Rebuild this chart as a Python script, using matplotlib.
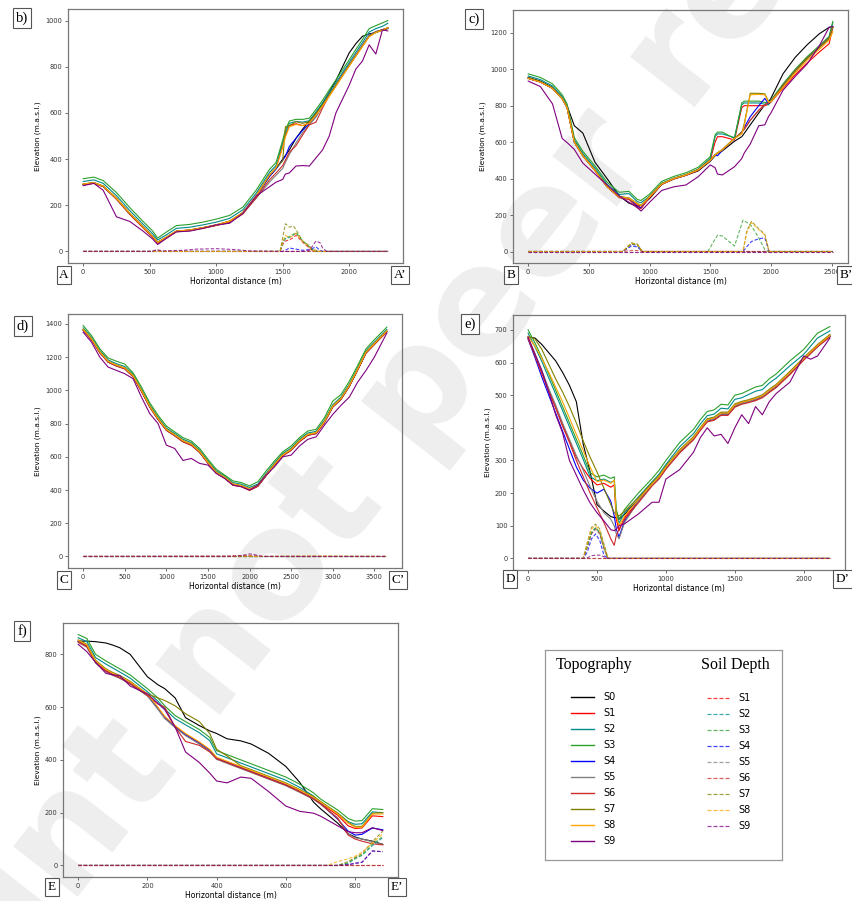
import matplotlib
matplotlib.use("Agg")
import matplotlib.pyplot as plt
from matplotlib.ticker import MultipleLocator

W, H = 852, 901

# ---------------- section A-A' (panel b) ----------------
b_x = [0, 80, 150, 250, 350, 450, 520, 560, 620, 700, 800, 900, 1000, 1100, 1200, 1300, 1400, 1450,
       1500, 1520, 1550, 1600, 1650, 1700, 1750, 1800, 1850, 1900, 1950, 2000, 2050, 2100, 2150, 2200, 2250, 2290]
b_s0 = [290, 297, 282, 228, 163, 105, 65, 40, 58, 87, 92, 102, 114, 130, 167, 238, 325, 358,
        400, 415, 440, 490, 530, 565, 600, 640, 690, 740, 800, 860, 900, 932, 942, 948, 958, 965]
b_s1 = [292, 298, 283, 230, 165, 106, 66, 40, 60, 88, 93, 103, 115, 131, 168, 240, 330, 362,
        460, 500, 545, 553, 545, 555, 592, 632, 675, 718, 762, 805, 848, 890, 932, 950, 960, 968]
b_s2 = [303, 310, 295, 242, 177, 118, 78, 50, 70, 100, 105, 115, 127, 143, 180, 252, 342, 372,
        472, 512, 555, 563, 560, 566, 604, 644, 688, 731, 775, 818, 862, 905, 950, 965, 975, 988]
b_s3 = [315, 322, 307, 255, 190, 130, 90, 58, 82, 112, 117, 127, 140, 156, 192, 265, 355, 385,
        482, 525, 565, 572, 572, 577, 615, 655, 700, 743, 787, 830, 875, 918, 965, 978, 990, 1000]
b_s4 = [290, 297, 282, 228, 163, 105, 65, 40, 58, 87, 92, 102, 114, 125, 167, 238, 325, 358,
        395, 412, 455, 490, 525, 552, 585, 632, 678, 720, 765, 808, 850, 893, 935, 952, 960, 968]
b_s5 = [290, 297, 282, 228, 163, 105, 65, 40, 58, 87, 92, 102, 114, 128, 165, 230, 300, 330,
        360, 385, 420, 470, 515, 548, 582, 632, 678, 720, 765, 808, 850, 893, 935, 952, 960, 968]
b_s6 = [288, 295, 280, 226, 160, 102, 62, 35, 55, 85, 90, 100, 112, 126, 162, 232, 310, 340,
        372, 395, 430, 458, 505, 548, 560, 622, 675, 718, 762, 805, 848, 890, 932, 950, 960, 968]
b_s7 = [292, 298, 283, 230, 165, 106, 66, 40, 60, 88, 93, 103, 115, 131, 168, 240, 332, 362,
        392, 540, 545, 562, 555, 562, 597, 636, 678, 720, 763, 806, 848, 890, 932, 950, 960, 968]
b_s8 = [292, 298, 283, 230, 165, 106, 66, 40, 60, 88, 93, 103, 115, 131, 168, 240, 330, 362,
        450, 495, 540, 550, 545, 555, 590, 630, 672, 715, 760, 803, 846, 888, 930, 948, 958, 970]
b_s9 = [285, 295, 265, 150, 130, 88, 55, 30, 55, 85, 88, 100, 115, 122, 165, 240, 280, 300,
        312, 335, 340, 370, 372, 370, 405, 440, 500, 600, 660, 720, 790, 825, 895, 855, 960, 955]
b_sx = [0, 520, 550, 600, 750, 850, 1000, 1150, 1250, 1480, 1500, 1520, 1550, 1580, 1600, 1650,
        1700, 1720, 1750, 1780, 1800, 1830, 2290]
b_d1 = [0, 0, 0, 0, 0, 0, 0, 0, 0, 0, 30, 45, 50, 60, 70, 40, 15, 5, 0, 0, 0, 0, 0]
b_d2 = [0, 0, 0, 0, 0, 0, 0, 0, 0, 0, 35, 55, 60, 70, 80, 45, 20, 8, 0, 0, 0, 0, 0]
b_d3 = [0, 0, 0, 0, 0, 0, 0, 0, 0, 0, 40, 60, 65, 75, 82, 45, 20, 8, 0, 0, 0, 0, 0]
b_d4 = [0, 0, 0, 0, 0, 0, 0, 0, 0, 0, 0, 5, 15, 12, 10, 5, 8, 12, 20, 5, 0, 0, 0]
b_d5 = [0, 0, 0, 0, 0, 0, 0, 0, 0, 0, 0, 0, 0, 0, 0, 0, 0, 0, 0, 0, 0, 0, 0]
b_d6 = [0, 0, 5, 0, 0, 0, 0, 0, 0, 0, 0, 0, 0, 0, 0, 0, 0, 0, 0, 0, 0, 0, 0]
b_d7 = [0, 0, 0, 0, 0, 0, 0, 0, 0, 0, 60, 120, 105, 110, 95, 45, 25, 10, 5, 0, 0, 0, 0]
b_d8 = [0, 0, 0, 0, 0, 0, 0, 0, 0, 0, 40, 70, 60, 70, 80, 42, 18, 6, 0, 0, 0, 0, 0]
b_d9 = [0, 0, 8, 2, 5, 10, 12, 8, 2, 0, 0, 0, 0, 0, 0, 0, 5, 20, 45, 38, 15, 0, 0]

# ---------------- section B-B' (panel c) ----------------
c_x = [0, 100, 200, 280, 320, 380, 450, 550, 650, 750, 830, 900, 930, 1000, 1100, 1200, 1300, 1400,
       1500, 1540, 1560, 1600, 1700, 1760, 1780, 1830, 1900, 1950, 1980, 2000, 2100, 2200, 2300, 2400, 2480, 2510]
c_s0 = [955, 935, 900, 840, 800, 690, 650, 490, 400, 305, 265, 250, 253, 290, 368, 398, 418, 442,
        495, 525, 538, 552, 605, 630, 648, 695, 760, 805, 820, 840, 975, 1065, 1135, 1195, 1230, 1232]
c_s1 = [950, 930, 895, 838, 790, 600, 525, 445, 355, 300, 290, 255, 240, 295, 368, 398, 418, 445,
        500, 600, 630, 630, 612, 790, 800, 800, 800, 800, 808, 820, 895, 970, 1035, 1095, 1140, 1230]
c_s2 = [963, 943, 908, 850, 800, 612, 538, 458, 368, 313, 318, 273, 268, 303, 375, 402, 422, 452,
        510, 630, 645, 645, 625, 805, 815, 815, 815, 808, 805, 825, 912, 992, 1062, 1124, 1175, 1255]
c_s3 = [975, 955, 920, 860, 810, 625, 550, 470, 380, 325, 330, 285, 280, 315, 385, 412, 432, 462,
        520, 640, 655, 655, 620, 815, 825, 825, 825, 818, 815, 830, 920, 1000, 1070, 1130, 1180, 1262]
c_s4 = [950, 930, 895, 838, 790, 600, 525, 445, 355, 300, 292, 245, 240, 300, 370, 400, 420, 448,
        500, 530, 525, 555, 620, 655, 680, 740, 800, 840, 812, 822, 910, 990, 1060, 1120, 1170, 1230]
c_s5 = [950, 930, 895, 838, 790, 600, 525, 445, 355, 300, 292, 262, 252, 300, 370, 400, 420, 448,
        500, 530, 540, 558, 620, 655, 670, 720, 775, 805, 815, 822, 910, 990, 1060, 1120, 1170, 1230]
c_s6 = [950, 930, 895, 838, 790, 600, 525, 445, 355, 295, 285, 240, 235, 298, 370, 400, 420, 448,
        500, 530, 540, 558, 620, 655, 670, 720, 775, 805, 815, 822, 910, 990, 1060, 1120, 1170, 1230]
c_s7 = [952, 932, 897, 840, 792, 602, 527, 447, 357, 302, 294, 264, 254, 302, 372, 402, 422, 450,
        502, 532, 542, 560, 622, 650, 700, 868, 868, 865, 825, 822, 910, 990, 1060, 1120, 1170, 1230]
c_s8 = [950, 930, 895, 838, 790, 600, 525, 445, 355, 300, 292, 262, 252, 300, 370, 400, 420, 448,
        500, 530, 540, 558, 620, 645, 690, 860, 862, 860, 820, 822, 900, 980, 1050, 1110, 1160, 1205]
c_s9 = [935, 905, 810, 620, 598, 560, 485, 425, 365, 305, 270, 240, 222, 270, 335, 355, 365, 410,
        475, 460, 425, 420, 465, 510, 540, 590, 690, 695, 740, 760, 885, 960, 1030, 1130, 1230, 1235]
c_sx = [0, 780, 850, 900, 940, 1480, 1560, 1600, 1700, 1770, 1800, 1840, 1900, 1950, 1985, 2510]
c_d1 = [0, 0, 42, 35, 0, 0, 0, 0, 0, 0, 0, 0, 0, 0, 0, 0]
c_d2 = [0, 0, 40, 32, 0, 0, 0, 0, 0, 0, 0, 0, 0, 0, 0, 0]
c_d3 = [0, 0, 45, 40, 0, 0, 90, 85, 30, 172, 160, 140, 75, 10, 0, 0]
c_d4 = [0, 0, 30, 25, 0, 0, 0, 0, 0, 0, 25, 55, 70, 75, 0, 0]
c_d5 = [0, 0, 0, 0, 0, 0, 0, 0, 0, 0, 0, 0, 0, 0, 0, 0]
c_d6 = [0, 0, 5, 5, 0, 0, 0, 0, 0, 0, 0, 0, 0, 0, 0, 0]
c_d7 = [0, 0, 48, 40, 0, 0, 0, 0, 0, 0, 110, 165, 125, 95, 0, 0]
c_d8 = [0, 0, 46, 38, 0, 0, 0, 0, 0, 0, 100, 160, 120, 90, 0, 0]
c_d9 = [0, 0, 0, 0, 0, 0, 0, 0, 0, 0, 0, 0, 0, 0, 0, 0]

# ---------------- section C-C' (panel d) ----------------
d_x = [0, 100, 200, 300, 400, 500, 600, 700, 800, 900, 1000, 1100, 1200, 1300, 1400, 1500, 1600, 1700,
       1800, 1900, 2000, 2100, 2200, 2300, 2400, 2500, 2600, 2700, 2800, 2900, 3000, 3100, 3200, 3300,
       3400, 3500, 3650]
d_s0 = [1365, 1307, 1229, 1172, 1149, 1132, 1085, 997, 902, 827, 762, 729, 694, 674, 629, 564, 504, 474,
        434, 424, 404, 425, 490, 552, 609, 642, 694, 732, 742, 809, 902, 949, 1027, 1125, 1227, 1279, 1355]
d_s1 = [1363, 1305, 1227, 1170, 1147, 1130, 1083, 995, 900, 825, 760, 727, 692, 672, 627, 562, 502, 472,
        432, 422, 400, 423, 488, 550, 607, 640, 692, 730, 740, 807, 900, 947, 1025, 1123, 1225, 1277, 1353]
d_s2 = [1376, 1318, 1240, 1183, 1160, 1143, 1096, 1008, 913, 838, 773, 740, 705, 685, 640, 575, 515, 485,
        445, 435, 415, 436, 501, 563, 620, 653, 705, 743, 753, 820, 913, 960, 1038, 1136, 1238, 1290, 1366]
d_s3 = [1390, 1330, 1250, 1195, 1175, 1158, 1105, 1020, 925, 850, 785, 750, 715, 695, 650, 585, 525, 490,
        455, 445, 425, 450, 515, 575, 630, 665, 715, 755, 765, 835, 935, 975, 1055, 1150, 1250, 1305, 1380]
d_s4 = [1364, 1306, 1228, 1171, 1148, 1131, 1084, 996, 901, 826, 761, 728, 693, 673, 628, 563, 503, 473,
        433, 423, 403, 424, 489, 551, 608, 641, 693, 731, 741, 808, 901, 948, 1026, 1124, 1226, 1278, 1354]
d_s5 = [1364, 1306, 1228, 1171, 1148, 1131, 1084, 996, 901, 826, 761, 728, 693, 673, 628, 563, 503, 473,
        433, 423, 403, 424, 489, 551, 608, 641, 693, 731, 741, 808, 901, 948, 1026, 1124, 1226, 1278, 1354]
d_s6 = [1362, 1304, 1226, 1169, 1146, 1129, 1082, 994, 899, 824, 759, 726, 689, 668, 626, 561, 501, 471,
        428, 420, 397, 422, 487, 549, 606, 639, 691, 729, 739, 806, 899, 946, 1024, 1122, 1224, 1276, 1352]
d_s7 = [1368, 1310, 1232, 1175, 1152, 1135, 1088, 1000, 905, 830, 765, 732, 697, 677, 632, 567, 507, 477,
        437, 427, 407, 428, 493, 555, 612, 645, 697, 735, 745, 812, 905, 952, 1030, 1128, 1230, 1282, 1358]
d_s8 = [1368, 1310, 1232, 1175, 1152, 1135, 1088, 1000, 905, 830, 765, 732, 697, 677, 632, 567, 507, 477,
        437, 427, 407, 428, 493, 555, 612, 645, 697, 735, 745, 812, 905, 952, 1030, 1128, 1230, 1282, 1358]
d_s9 = [1350, 1290, 1200, 1140, 1120, 1100, 1070, 960, 860, 800, 670, 650, 578, 590, 560, 550, 500, 470,
        430, 420, 400, 430, 490, 540, 600, 610, 665, 705, 720, 790, 855, 910, 960, 1050, 1120, 1200, 1345]
d_sx = [0, 1750, 1900, 2000, 2050, 2150, 2800, 3650]
d_d1 = [0, 0, 0, 0, 0, 0, 0, 0]
d_d2 = [0, 0, 0, 0, 0, 0, 0, 0]
d_d3 = [0, 0, 0, 0, 0, 0, 0, 0]
d_d4 = [0, 0, 0, 0, 0, 0, 0, 0]
d_d5 = [0, 0, 0, 0, 0, 0, 0, 0]
d_d6 = [0, 2, 5, 5, 3, 0, 0, 0]
d_d7 = [0, 0, 0, 0, 0, 0, 0, 0]
d_d8 = [0, 0, 3, 3, 0, 0, 3, 0]
d_d9 = [0, 0, 5, 15, 12, 0, 0, 0]

# ---------------- section D-D' (panel e) ----------------
e_x = [0, 50, 100, 150, 200, 250, 300, 350, 400, 450, 500, 550, 600, 625, 640, 660, 700, 800, 900, 950,
       1000, 1100, 1200, 1250, 1300, 1350, 1400, 1450, 1500, 1550, 1600, 1650, 1700, 1750, 1800, 1900,
       2000, 2050, 2100, 2190]
e_s0 = [678, 675, 655, 630, 605, 570, 530, 480, 350, 265, 165, 145, 128, 125, 125, 120, 135, 180, 228, 250,
        280, 330, 370, 398, 425, 430, 445, 445, 470, 478, 483, 490, 498, 515, 530, 570, 612, 632, 652, 683]
e_s1 = [675, 625, 570, 515, 465, 410, 360, 310, 275, 245, 225, 230, 218, 225, 120, 85, 125, 175, 225, 245,
        275, 325, 365, 395, 420, 425, 440, 440, 465, 475, 480, 485, 495, 510, 525, 565, 610, 630, 650, 680]
e_s2 = [690, 648, 603, 553, 503, 453, 403, 353, 303, 250, 238, 243, 233, 238, 138, 108, 140, 188, 235, 258,
        288, 342, 382, 412, 437, 442, 460, 458, 487, 492, 502, 512, 517, 537, 552, 590, 625, 650, 675, 697]
e_s3 = [700, 660, 615, 565, 515, 465, 415, 365, 315, 262, 250, 255, 245, 250, 150, 120, 150, 200, 245, 270,
        300, 355, 395, 425, 450, 455, 472, 470, 500, 505, 515, 525, 530, 550, 565, 605, 640, 665, 690, 710]
e_s4 = [672, 615, 555, 500, 445, 390, 335, 280, 240, 215, 200, 212, 175, 130, 90, 65, 115, 175, 225, 247,
        277, 327, 367, 395, 422, 427, 442, 442, 467, 475, 480, 487, 495, 512, 527, 567, 609, 629, 649, 680]
e_s5 = [675, 628, 575, 520, 470, 415, 365, 315, 270, 220, 175, 140, 120, 100, 75, 60, 110, 175, 225, 247,
        277, 327, 367, 395, 422, 427, 442, 442, 467, 475, 480, 487, 495, 512, 527, 567, 609, 629, 649, 680]
e_s6 = [672, 620, 565, 510, 460, 405, 355, 300, 250, 200, 155, 110, 60, 40, 70, 90, 120, 170, 222, 243,
        273, 323, 363, 392, 418, 423, 438, 438, 463, 472, 477, 483, 492, 508, 523, 563, 607, 627, 648, 678]
e_s7 = [680, 672, 640, 595, 550, 510, 465, 415, 360, 310, 265, 215, 165, 140, 135, 130, 145, 185, 232, 253,
        283, 333, 373, 401, 428, 433, 448, 448, 473, 481, 486, 493, 501, 518, 533, 573, 615, 635, 655, 686]
e_s8 = [680, 650, 612, 570, 525, 480, 430, 380, 330, 280, 235, 240, 230, 240, 130, 100, 130, 180, 228, 250,
        280, 330, 370, 398, 425, 430, 445, 445, 470, 478, 483, 490, 498, 515, 530, 570, 612, 632, 652, 683]
e_s9 = [678, 625, 575, 510, 440, 385, 300, 255, 210, 170, 140, 115, 88, 85, 90, 100, 106, 136, 172, 172,
        243, 272, 325, 370, 400, 375, 380, 352, 400, 440, 413, 465, 440, 480, 505, 540, 620, 610, 620, 675]
e_sx = [0, 400, 430, 460, 490, 520, 550, 580, 2190]
e_d1 = [0, 0, 35, 75, 90, 75, 30, 0, 0]
e_d2 = [0, 0, 38, 78, 92, 78, 33, 0, 0]
e_d3 = [0, 0, 40, 80, 95, 80, 35, 0, 0]
e_d4 = [0, 0, 20, 60, 75, 55, 10, 0, 0]
e_d5 = [0, 0, 0, 0, 0, 0, 0, 0, 0]
e_d6 = [0, 0, 0, 0, 0, 0, 0, 0, 0]
e_d7 = [0, 0, 50, 95, 105, 90, 45, 0, 0]
e_d8 = [0, 0, 45, 90, 100, 85, 40, 0, 0]
e_d9 = [0, 0, 2, 8, 10, 10, 5, 0, 0]

# ---------------- section E-E' (panel f) ----------------
f_x = [0, 25, 50, 80, 100, 120, 150, 200, 230, 250, 280, 310, 350, 380, 400, 430, 470, 500, 550, 600,
       640, 680, 700, 750, 780, 800, 820, 850, 880]
f_s0 = [850, 850, 848, 843, 835, 825, 800, 715, 685, 670, 635, 560, 530, 510, 500, 480, 472, 460, 425, 375,
        315, 240, 215, 160, 120, 108, 100, 92, 80]
f_s1 = [850, 832, 772, 739, 725, 714, 692, 647, 597, 562, 527, 497, 465, 437, 407, 392, 372, 357, 332, 307,
        282, 255, 236, 190, 150, 140, 142, 188, 185]
f_s2 = [863, 848, 788, 763, 748, 733, 710, 658, 623, 593, 556, 533, 503, 473, 423, 408, 388, 373, 348, 323,
        296, 263, 240, 198, 166, 156, 158, 203, 200]
f_s3 = [875, 860, 800, 775, 760, 745, 722, 670, 635, 605, 568, 545, 515, 485, 435, 420, 400, 385, 360, 335,
        308, 275, 252, 210, 178, 168, 170, 215, 212]
f_s4 = [848, 830, 770, 737, 723, 712, 690, 645, 595, 560, 525, 495, 463, 435, 405, 390, 370, 355, 330, 305,
        280, 253, 235, 175, 130, 115, 118, 142, 135]
f_s5 = [845, 827, 767, 734, 720, 709, 687, 642, 592, 557, 522, 492, 460, 432, 402, 387, 367, 352, 327, 302,
        277, 250, 232, 180, 120, 105, 100, 90, 80]
f_s6 = [847, 829, 769, 736, 722, 711, 689, 644, 612, 600, 524, 470, 455, 430, 404, 389, 369, 354, 329, 304,
        279, 252, 234, 178, 115, 100, 92, 82, 78]
f_s7 = [855, 838, 778, 745, 731, 720, 698, 650, 635, 625, 605, 575, 545, 500, 440, 415, 378, 363, 338, 313,
        288, 261, 243, 198, 163, 148, 148, 198, 200]
f_s8 = [853, 835, 775, 742, 728, 717, 695, 650, 600, 565, 530, 500, 468, 440, 410, 395, 375, 360, 335, 310,
        285, 258, 240, 195, 160, 145, 145, 195, 195]
f_s9 = [838, 810, 770, 728, 722, 720, 680, 650, 615, 590, 525, 430, 390, 350, 320, 313, 335, 330, 280, 225,
        205, 198, 187, 150, 128, 124, 124, 143, 132]
f_sx = [0, 720, 750, 780, 800, 820, 850, 880]
f_d1 = [0, 0, 0, 0, 0, 0, 0, 0]
f_d2 = [0, 0, 0, 8, 25, 38, 75, 105]
f_d3 = [0, 0, 0, 10, 28, 40, 80, 110]
f_d4 = [0, 0, 0, 3, 8, 12, 55, 52]
f_d5 = [0, 0, 0, 0, 0, 0, 0, 0]
f_d6 = [0, 0, 0, 0, 0, 0, 0, 0]
f_d7 = [0, 0, 0, 15, 30, 45, 90, 130]
f_d8 = [0, 0, 15, 25, 35, 50, 85, 120]
f_d9 = [0, 0, 0, 3, 8, 12, 55, 52]

topo_names = ['S0', 'S1', 'S2', 'S3', 'S4', 'S5', 'S6', 'S7', 'S8', 'S9']
soil_names = ['S1', 'S2', 'S3', 'S4', 'S5', 'S6', 'S7', 'S8', 'S9']
colors = ['black', 'red', 'darkcyan', '#2ca02c', 'blue', 'gray', '#cc2b2b', 'olive', 'orange', 'purple']

# panel layout in pixels: left, top, right, bottom
panels = [
    dict(tag='b)', ends=('A', 'A\u2019'), box=(68, 9, 403, 263), x=b_x,
         topo=[b_s0, b_s1, b_s2, b_s3, b_s4, b_s5, b_s6, b_s7, b_s8, b_s9],
         sx=b_sx, soil=[b_d1, b_d2, b_d3, b_d4, b_d5, b_d6, b_d7, b_d8, b_d9],
         xstep=500, ystep=200, tagpos=(22, 18), endpos=((64, 275), (400, 275))),
    dict(tag='c)', ends=('B', 'B\u2019'), box=(513, 10, 848, 263), x=c_x,
         topo=[c_s0, c_s1, c_s2, c_s3, c_s4, c_s5, c_s6, c_s7, c_s8, c_s9],
         sx=c_sx, soil=[c_d1, c_d2, c_d3, c_d4, c_d5, c_d6, c_d7, c_d8, c_d9],
         xstep=500, ystep=200, tagpos=(474, 19), endpos=((511, 275), (846, 275))),
    dict(tag='d)', ends=('C', 'C\u2019'), box=(68, 314, 402, 568), x=d_x,
         topo=[d_s0, d_s1, d_s2, d_s3, d_s4, d_s5, d_s6, d_s7, d_s8, d_s9],
         sx=d_sx, soil=[d_d1, d_d2, d_d3, d_d4, d_d5, d_d6, d_d7, d_d8, d_d9],
         xstep=500, ystep=200, tagpos=(23, 326), endpos=((64, 580), (398, 580))),
    dict(tag='e)', ends=('D', 'D\u2019'), box=(513, 315, 845, 570), x=e_x,
         topo=[e_s0, e_s1, e_s2, e_s3, e_s4, e_s5, e_s6, e_s7, e_s8, e_s9],
         sx=e_sx, soil=[e_d1, e_d2, e_d3, e_d4, e_d5, e_d6, e_d7, e_d8, e_d9],
         xstep=500, ystep=100, tagpos=(470, 324), endpos=((510, 579), (843, 579))),
    dict(tag='f)', ends=('E', 'E\u2019'), box=(63, 623, 398, 877), x=f_x,
         topo=[f_s0, f_s1, f_s2, f_s3, f_s4, f_s5, f_s6, f_s7, f_s8, f_s9],
         sx=f_sx, soil=[f_d1, f_d2, f_d3, f_d4, f_d5, f_d6, f_d7, f_d8, f_d9],
         xstep=200, ystep=200, tagpos=(22, 631), endpos=((52, 887), (397, 887))),
]

fig = plt.figure(figsize=(W / 100, H / 100), dpi=100, facecolor='white')

# faint diagonal watermark behind everything
fig.text(425 / W, 1 - 385 / H, 'Preprint not peer reviewed', rotation=52, fontsize=108,
         fontweight='bold', color='#eeeeee', ha='center', va='center', rotation_mode='anchor',
         zorder=-10, family='DejaVu Sans')

boxstyle = dict(boxstyle='square,pad=0.2', fc='white', ec='#555555', lw=0.8)
dash = (0, (3.2, 1.6))

for p in panels:
    l, t, r, bt = p['box']
    ax = fig.add_axes([l / W, 1 - bt / H, (r - l) / W, (bt - t) / H])
    ax.patch.set_alpha(0)
    for y, c in zip(p['topo'], colors):
        ax.plot(p['x'], y, color=c, lw=0.8)
    for y, c in zip(p['soil'], colors[1:]):
        ax.plot(p['sx'], y, color=c, lw=0.8, ls=dash, alpha=0.75)
    ax.xaxis.set_major_locator(MultipleLocator(p['xstep']))
    ax.yaxis.set_major_locator(MultipleLocator(p['ystep']))
    ax.set_xlabel('Horizontal distance (m)', fontsize=5.6, labelpad=1.5)
    ax.set_ylabel('Elevation (m.a.s.l.)', fontsize=5.3, labelpad=3)
    ax.tick_params(labelsize=4.8, length=2.5, width=0.6, colors='#555555', labelcolor='#333333', pad=1.5)
    for s in ax.spines.values():
        s.set_color('#777777')
        s.set_linewidth(0.9)
    tx, ty = p['tagpos']
    fig.text(tx / W, 1 - ty / H, p['tag'], family='Liberation Serif', fontsize=10.5,
             ha='center', va='center', bbox=boxstyle)
    for (ex, ey), lab in zip(p['endpos'], p['ends']):
        fig.text(ex / W, 1 - ey / H, lab, family='Liberation Serif', fontsize=9.5,
                 ha='center', va='center', bbox=boxstyle)

# legend panel drawn by hand in pixel units
lg = fig.add_axes([545 / W, 1 - 860 / H, 237 / W, 210 / H])
lg.set_xlim(545, 782)
lg.set_ylim(860, 650)
lg.set_xticks([])
lg.set_yticks([])
for s in lg.spines.values():
    s.set_color('#999999')
    s.set_linewidth(0.9)
lg.text(594, 665, 'Topography', family='Liberation Serif', fontsize=11.5, ha='center', va='center')
lg.text(735, 665, 'Soil Depth', family='Liberation Serif', fontsize=11.5, ha='center', va='center')
for i, (name, c) in enumerate(zip(topo_names, colors)):
    y = 697 + 16 * i
    lg.plot([571, 594], [y, y], color=c, lw=1.0)
    lg.text(603, y, name, fontsize=7, va='center')
for i, (name, c) in enumerate(zip(soil_names, colors[1:])):
    y = 698 + 16 * i
    lg.plot([707, 729], [y, y], color=c, lw=0.9, ls=dash, alpha=0.75)
    lg.text(738, y, name, fontsize=7, va='center')

fig.savefig('out.png', dpi=100, facecolor='white')
